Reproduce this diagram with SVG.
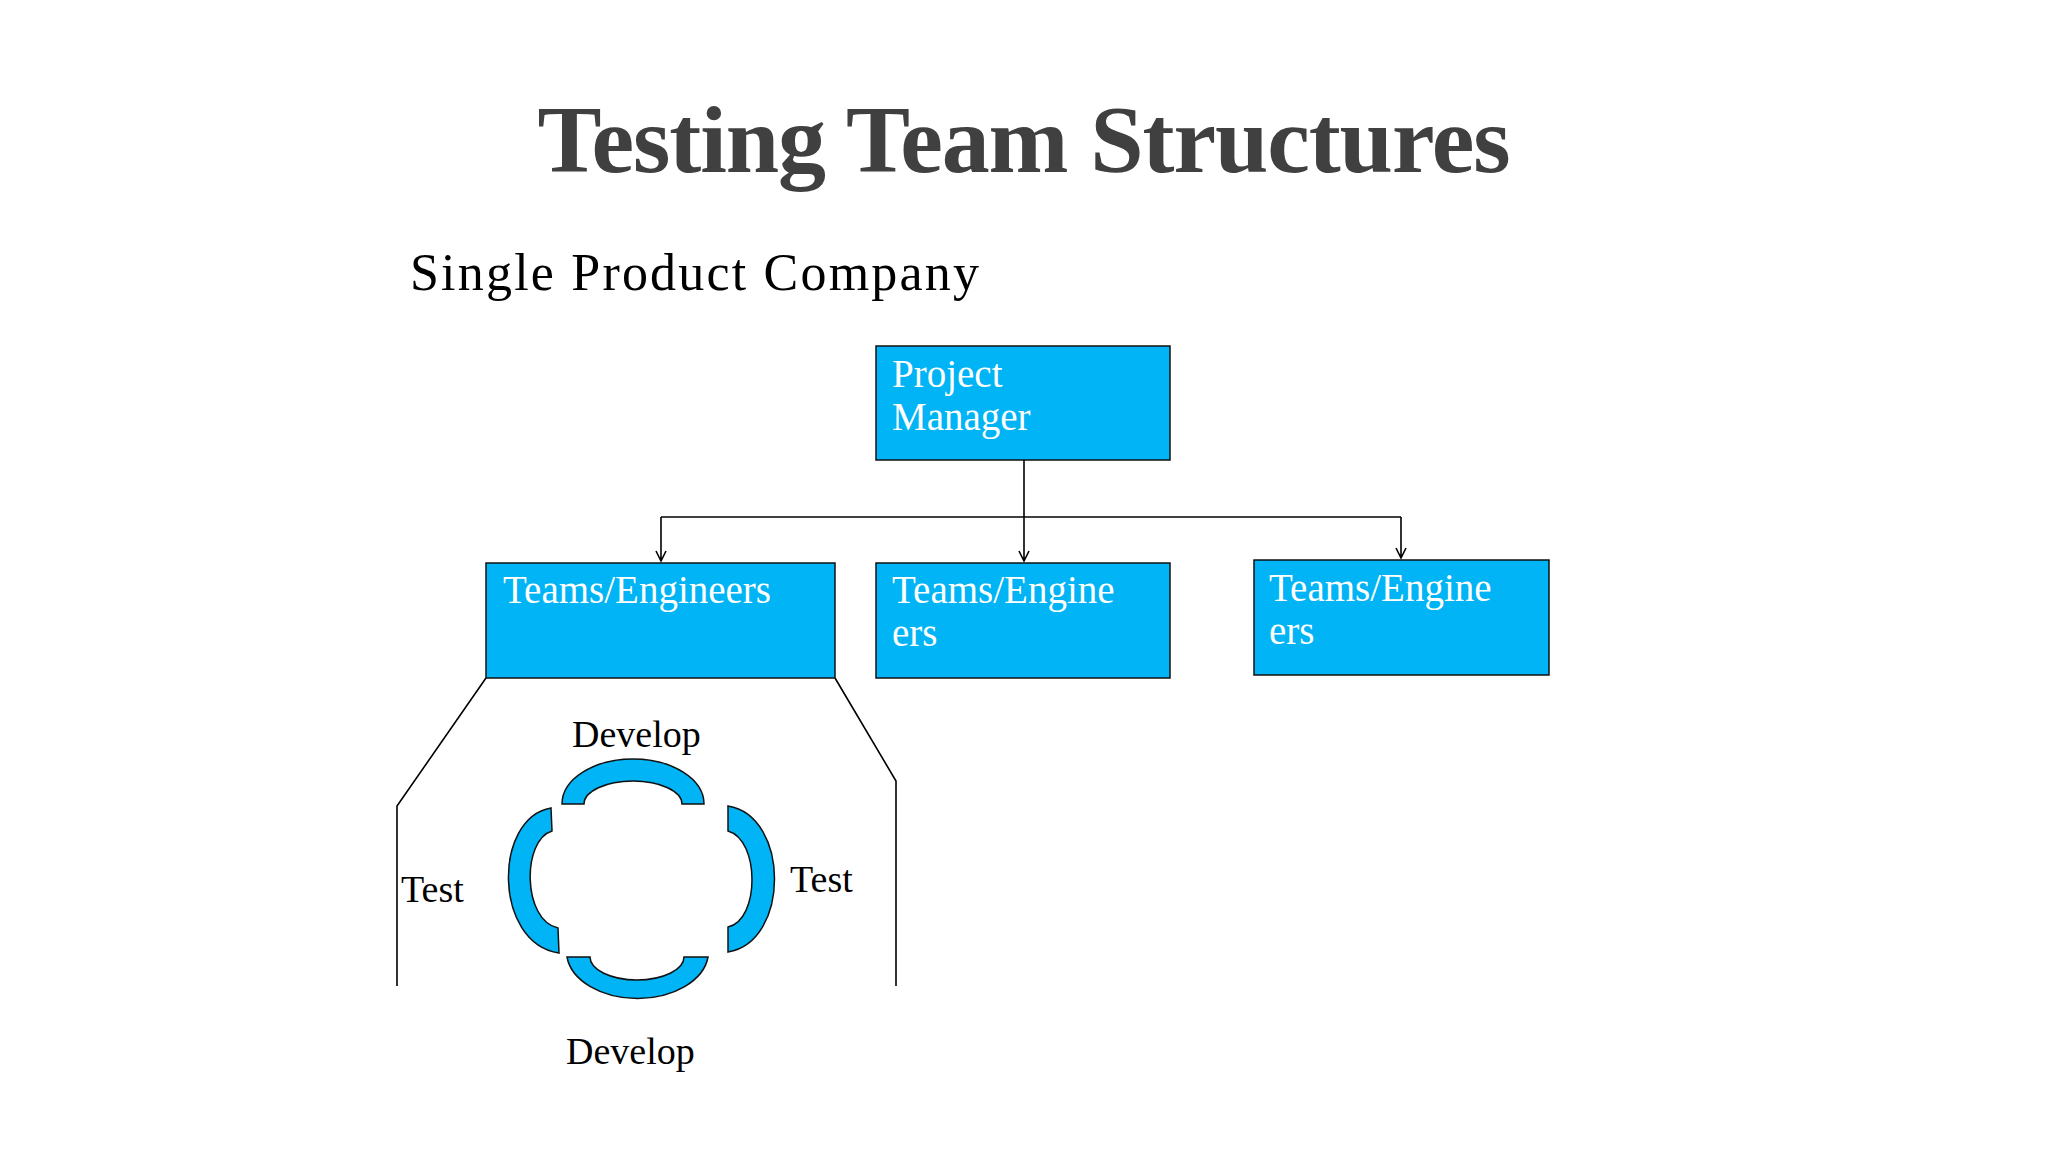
<svg xmlns="http://www.w3.org/2000/svg" width="2048" height="1152" viewBox="0 0 2048 1152">
<style>
.box{fill:#00b4f5;stroke:#111;stroke-width:1.5}
.bt{font-family:"Liberation Serif",serif;font-size:39px;fill:#fff}
.lb{font-family:"Liberation Serif",serif;font-size:38px;fill:#000}
.arc{fill:#00b4f5;stroke:#111;stroke-width:1.5}
.ln{fill:none;stroke:#000;stroke-width:1.6}
</style>
<defs><marker id="ah" viewBox="0 0 12 12" refX="6" refY="11" markerWidth="12" markerHeight="12" markerUnits="userSpaceOnUse" orient="auto-start-reverse"><path d="M0,0 L6,11 L12,0" fill="none" stroke="#000" stroke-width="1.6" transform="rotate(-90 6 6)"/></marker></defs>
<rect width="2048" height="1152" fill="#fff"/>
<text x="1024" y="172" text-anchor="middle" font-family="Liberation Serif,serif" font-weight="bold" font-size="96" fill="#404040" textLength="973">Testing Team Structures</text>
<text x="410" y="290" font-family="Liberation Serif,serif" font-size="52" fill="#000" textLength="569">Single Product Company</text>
<g id="connectors">
<path class="ln" d="M1024,460 V517"/>
<path class="ln" d="M661,517 H1401"/>
<path class="ln" d="M661,517 V561 M656,551 L661,561 L666,551"/>
<path class="ln" d="M1024,517 V561 M1019,551 L1024,561 L1029,551"/>
<path class="ln" d="M1401,517 V558 M1396,548 L1401,558 L1406,548"/>
<path class="ln" d="M486,678 L397,806 V986"/>
<path class="ln" d="M835,678 L896,781 V986"/>
</g>
<g id="pm"><rect class="box" x="876" y="346" width="294" height="114"/><text class="bt" x="892" y="387">Project</text><text class="bt" x="892" y="430">Manager</text></g>
<g id="team1"><rect class="box" x="486" y="563" width="349" height="115"/><text class="bt" x="503" y="603">Teams/Engineers</text></g>
<g id="team2"><rect class="box" x="876" y="563" width="294" height="115"/><text class="bt" x="892" y="603">Teams/Engine</text><text class="bt" x="892" y="646">ers</text></g>
<g id="team3"><rect class="box" x="1254" y="560" width="295" height="115"/><text class="bt" x="1269" y="601">Teams/Engine</text><text class="bt" x="1269" y="644">ers</text></g>
<g id="cycle">
<path class="arc" d="M562,804 A71,45 0 0 1 704,804 L682,804 A49,23 0 0 0 584,804 Z"/>
<path class="arc" d="M567,957 A71,47 0 0 0 708,957 L684,957 A47,23 0 0 1 590,957 Z"/>
<path class="arc" d="M551,808 C493,818 493,943 559,953 L558,928 C522,920 522,840 552,831 Z"/>
<path class="arc" d="M728,806 C790,816 790,942 728,952 L728,927 C760,920 760,840 728,831 Z"/>
<text class="lb" x="572" y="747">Develop</text>
<text class="lb" x="401" y="902">Test</text>
<text class="lb" x="790" y="892">Test</text>
<text class="lb" x="566" y="1064">Develop</text>
</g>
</svg>
